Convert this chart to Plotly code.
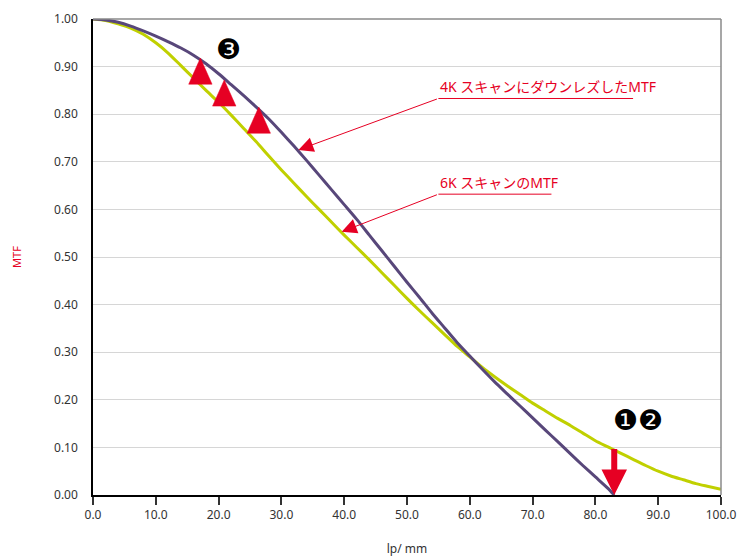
import plotly.graph_objects as go

# ---------------- data ----------------
x_4k = [0, 2, 4, 6, 8, 10, 12, 14, 16, 18, 20, 22, 24, 26, 28, 30, 32, 34, 36, 38,
        40, 42, 44, 46, 48, 50, 52, 54, 56, 58, 60, 62, 64, 66, 68, 70, 72, 74, 76,
        78, 80, 82, 83]
mtf_4k = [1.000, 0.998, 0.993, 0.985, 0.975, 0.964, 0.952, 0.939, 0.924, 0.906,
          0.885, 0.862, 0.839, 0.815, 0.790, 0.762, 0.733, 0.703, 0.672, 0.641,
          0.610, 0.579, 0.546, 0.513, 0.480, 0.447, 0.415, 0.382, 0.351, 0.320,
          0.292, 0.264, 0.237, 0.212, 0.187, 0.162, 0.137, 0.112, 0.087, 0.062,
          0.038, 0.014, 0.000]

x_6k = [0, 2, 4, 6, 8, 10, 12, 14, 16, 18, 20, 22, 24, 26, 28, 30, 32, 34, 36, 38,
        40, 42, 44, 46, 48, 50, 52, 54, 56, 58, 60, 62, 64, 66, 68, 70, 72, 74, 76,
        78, 80, 82, 84, 86, 88, 90, 92, 94, 96, 98, 100]
mtf_6k = [1.000, 0.997, 0.990, 0.981, 0.968, 0.950, 0.928, 0.902, 0.876, 0.850,
          0.825, 0.798, 0.770, 0.742, 0.712, 0.683, 0.655, 0.627, 0.600, 0.573,
          0.546, 0.520, 0.494, 0.467, 0.440, 0.413, 0.387, 0.362, 0.337, 0.312,
          0.290, 0.268, 0.248, 0.229, 0.211, 0.193, 0.177, 0.161, 0.146, 0.130,
          0.114, 0.101, 0.088, 0.075, 0.062, 0.050, 0.040, 0.032, 0.024, 0.018,
          0.012]

# red triangle markers (apex positions)
tri_x = [17.1, 20.9, 26.4]
tri_y = [0.918, 0.872, 0.815]

# labels
label_4k = "4K スキャンにダウンレズしたMTF"
label_6k = "6K スキャンのMTF"
label_4k_pos = (55.0, 0.858)
label_4k_line = (55.0, 86.0, 0.833)
label_4k_tip = (32.7, 0.725)
label_6k_pos = (55.0, 0.657)
label_6k_line = (55.0, 73.0, 0.632)
label_6k_tip = (39.6, 0.553)

mark3_pos = (21.5, 0.935)
mark12_pos = (86.8, 0.157)
down_arrow = (83.0, 0.10, 0.0)  # x, from, to

x_ticks = [0, 10, 20, 30, 40, 50, 60, 70, 80, 90, 100]
x_ticktext = ["0.0", "10.0", "20.0", "30.0", "40.0", "50.0", "60.0", "70.0", "80.0", "90.0", "100.0"]
y_ticks = [0, 0.1, 0.2, 0.3, 0.4, 0.5, 0.6, 0.7, 0.8, 0.9, 1.0]
y_ticktext = ["0.00", "0.10", "0.20", "0.30", "0.40", "0.50", "0.60", "0.70", "0.80", "0.90", "1.00"]

# ---------------- style ----------------
PURPLE = "#58477a"
GREEN = "#c0d000"
RED = "#e60023"
FONT = "Noto Sans"
TRI_HALF_W = 1.86   # x units
TRI_H = 0.055       # y units

fig = go.Figure()

fig.add_trace(go.Scatter(x=x_6k, y=mtf_6k, mode="lines",
                         line=dict(color=GREEN, width=3, shape="spline", smoothing=0.6),
                         showlegend=False, hoverinfo="skip"))
fig.add_trace(go.Scatter(x=x_4k, y=mtf_4k, mode="lines",
                         line=dict(color=PURPLE, width=3, shape="spline", smoothing=0.6),
                         showlegend=False, hoverinfo="skip"))

# triangles built from apex points
for ax_, ay_ in zip(tri_x, tri_y):
    fig.add_trace(go.Scatter(
        x=[ax_, ax_ + TRI_HALF_W, ax_ - TRI_HALF_W, ax_],
        y=[ay_, ay_ - TRI_H, ay_ - TRI_H, ay_],
        mode="lines", fill="toself", fillcolor=RED,
        line=dict(color=RED, width=0.5), showlegend=False, hoverinfo="skip"))

annotations = []
shapes = []

# label 4K
annotations.append(dict(x=label_4k_pos[0], y=label_4k_pos[1], text=label_4k,
                        showarrow=False, xanchor="left", yanchor="middle",
                        font=dict(family=FONT + ", Noto Sans CJK JP", size=14, color=RED)))
shapes.append(dict(type="line", xref="x", yref="y",
                   x0=label_4k_line[0], x1=label_4k_line[1],
                   y0=label_4k_line[2], y1=label_4k_line[2],
                   line=dict(color=RED, width=1)))
annotations.append(dict(x=label_4k_tip[0], y=label_4k_tip[1], xref="x", yref="y",
                        ax=label_4k_line[0], ay=label_4k_line[2], axref="x", ayref="y",
                        text="", showarrow=True, arrowhead=2, arrowsize=3,
                        arrowwidth=1, arrowcolor=RED))
# label 6K
annotations.append(dict(x=label_6k_pos[0], y=label_6k_pos[1], text=label_6k,
                        showarrow=False, xanchor="left", yanchor="middle",
                        font=dict(family=FONT + ", Noto Sans CJK JP", size=14, color=RED)))
shapes.append(dict(type="line", xref="x", yref="y",
                   x0=label_6k_line[0], x1=label_6k_line[1],
                   y0=label_6k_line[2], y1=label_6k_line[2],
                   line=dict(color=RED, width=1)))
annotations.append(dict(x=label_6k_tip[0], y=label_6k_tip[1], xref="x", yref="y",
                        ax=label_6k_line[0], ay=label_6k_line[2], axref="x", ayref="y",
                        text="", showarrow=True, arrowhead=2, arrowsize=3,
                        arrowwidth=1, arrowcolor=RED))

# circled numbers
annotations.append(dict(x=mark3_pos[0], y=mark3_pos[1], text="❸", showarrow=False,
                        font=dict(family="DejaVu Sans", size=28, color="black")))
annotations.append(dict(x=mark12_pos[0], y=mark12_pos[1], text="❶❷", showarrow=False,
                        font=dict(family="DejaVu Sans", size=28, color="black")))

# big red down arrow
annotations.append(dict(x=down_arrow[0], y=down_arrow[2], xref="x", yref="y",
                        ax=down_arrow[0], ay=down_arrow[1], axref="x", ayref="y",
                        text="", showarrow=True, arrowhead=2, arrowsize=0.85,
                        arrowwidth=6, arrowcolor=RED))

# top and right frame lines
shapes.append(dict(type="line", xref="paper", yref="paper", x0=0, x1=1, y0=1, y1=1,
                   line=dict(color="#8a8a8a", width=1.5)))
shapes.append(dict(type="line", xref="paper", yref="paper", x0=1, x1=1, y0=0, y1=1,
                   line=dict(color="#8a8a8a", width=1.5)))

fig.update_layout(
    width=739, height=557,
    margin=dict(l=93, r=18, t=19, b=62, autoexpand=False),
    paper_bgcolor="white", plot_bgcolor="white",
    font=dict(family=FONT, size=12, color="#333333"),
    annotations=annotations, shapes=shapes,
    showlegend=False,
)
fig.update_xaxes(range=[0, 100], tickvals=x_ticks, ticktext=x_ticktext,
                 showgrid=False, zeroline=False, automargin=False,
                 showline=True, linecolor="black", linewidth=1.5,
                 ticks="outside", ticklen=8, tickwidth=1.5, tickcolor="#333333",
                 tickfont=dict(size=12, color="#333333"),
                 title=dict(text="lp/ mm", font=dict(size=12, color="#333333"), standoff=27))
fig.update_yaxes(range=[0, 1], tickvals=y_ticks, ticktext=y_ticktext,
                 showgrid=True, gridcolor="#d6d6d6", gridwidth=1, zeroline=False,
                 automargin=False,
                 showline=True, linecolor="black", linewidth=1.5,
                 ticks="", ticklabelstandoff=11,
                 tickfont=dict(size=12, color="#333333"),
                 title=dict(text="MTF", font=dict(size=11, color=RED), standoff=30))

fig.write_html("out.html",
               config={"displayModeBar": False},
               post_script="document.body.style.margin='0';document.body.style.overflow='hidden';")
